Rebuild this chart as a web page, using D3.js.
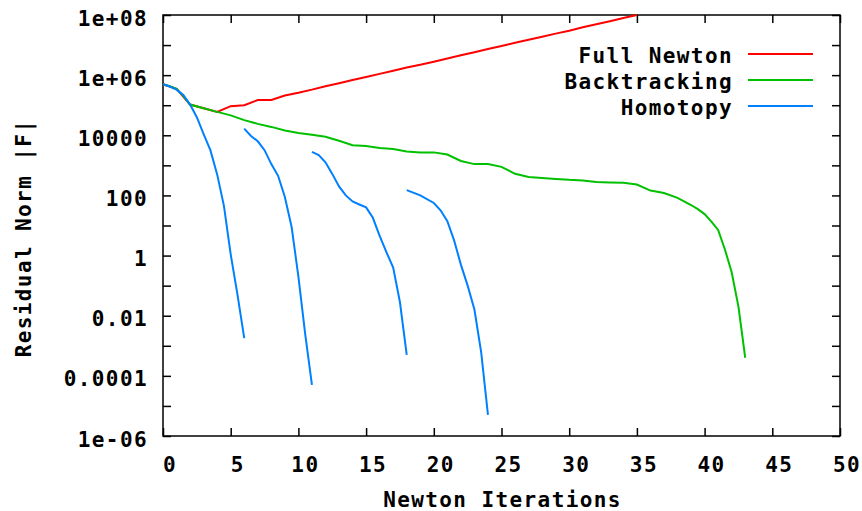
<!DOCTYPE html>
<html>
<head>
<meta charset="utf-8">
<script src="https://cdn.jsdelivr.net/npm/d3@7"></script>
<style>
    body { margin: 0; background: #fff; }
    text { font-family: "DejaVu Sans Mono", monospace; font-weight: bold; font-size: 21px; letter-spacing: 1.4px; fill: #000; }
</style>
</head>
<body>
<script>
// values: [newton iteration, residual norm |F|]
var fullNewton = [
    [0, 5.0e5], [1, 3.5e5], [2, 1.05e5], [3, 7.9e4], [4, 6.0e4], [5, 9.3e4],
    [6, 1.0e5], [7, 1.48e5], [8, 1.5e5], [9, 2.1e5], [10, 2.6e5], [11, 3.3e5],
    [12, 4.3e5], [13, 5.4e5], [14, 6.9e5], [15, 8.7e5], [16, 1.1e6], [17, 1.4e6],
    [18, 1.8e6], [19, 2.2e6], [20, 2.8e6], [21, 3.6e6], [22, 4.6e6], [23, 5.8e6],
    [24, 7.4e6], [25, 9.3e6], [26, 1.2e7], [27, 1.5e7], [28, 1.9e7], [29, 2.4e7],
    [30, 3.0e7], [31, 3.9e7], [32, 4.9e7], [33, 6.2e7], [34, 7.9e7], [35, 1.0e8]
];
var backtracking = [
    [0, 5.0e5], [0.5, 4.3e5], [1, 3.5e5], [1.5, 2.0e5], [2, 1.05e5], [3, 7.9e4],
    [4, 6.0e4], [5, 4.6e4], [6, 3.2e4], [7, 2.4e4], [8, 1.9e4], [9, 1.45e4],
    [10, 1.2e4], [11, 1.05e4], [12, 8.9e3], [13, 6.6e3], [14, 4.7e3], [15, 4.4e3],
    [16, 3.8e3], [17, 3.5e3], [18, 2.9e3], [19, 2.7e3], [20, 2.7e3], [21, 2.3e3],
    [22, 1.4e3], [23, 1.1e3], [24, 1.1e3], [25, 890], [26, 525], [27, 410],
    [28, 380], [29, 355], [30, 330], [31, 316], [32, 280], [33, 270], [34, 263],
    [35, 230], [36, 145], [37, 120], [38, 83], [39, 48], [39.5, 35], [40, 24],
    [40.5, 13.5], [41, 7.1], [41.5, 1.6], [42, 0.28], [42.5, 0.02], [43, 4e-4]
];
// homotopy restarts, one array per run
var homotopy = [
    [[0, 5.0e5], [0.5, 4.2e5], [1, 3.3e5], [1.5, 2.2e5], [2, 1.05e5], [2.5, 4.0e4],
     [3, 1.1e4], [3.5, 3.2e3], [4, 500], [4.5, 45], [5, 1.1], [5.5, 0.05], [6, 1.8e-3]],
    [[6, 1.66e4], [6.5, 9.5e3], [7, 6.3e3], [7.5, 3.2e3], [8, 1.1e3], [8.5, 450],
     [9, 89], [9.5, 8.9], [10, 0.2], [10.5, 2.5e-3], [11, 5e-5]],
    [[11, 2.8e3], [11.5, 2.2e3], [12, 1.26e3], [12.5, 520], [13, 200], [13.5, 100],
     [14, 63], [14.5, 50], [15, 40], [15.5, 18], [16, 4.5], [16.5, 1.3], [17, 0.4],
     [17.5, 0.028], [18, 5e-4]],
    [[18, 150], [19, 100], [20, 56], [20.5, 32], [21, 14], [21.5, 3.2], [22, 0.5],
     [22.5, 0.1], [23, 0.016], [23.5, 6e-4], [24, 5e-6]]
];
var seriesNames = ["Full Newton", "Backtracking", "Homotopy"];
var seriesColors = ["#ff0000", "#00c000", "#0080ff"];
var xTicks = [0, 5, 10, 15, 20, 25, 30, 35, 40, 45, 50];
var yTicks = [1e-6, 1e-5, 1e-4, 1e-3, 0.01, 0.1, 1, 10, 100, 1e3, 1e4, 1e5, 1e6, 1e7, 1e8];
var yLabels = { "1e-06": "1e-06", "0.0001": "0.0001", "0.01": "0.01", "1": "1", "100": "100",
    "10000": "10000", "1000000": "1e+06", "100000000": "1e+08" };

var pLeft = 163, pRight = 840, pTop = 15, pBottom = 436;

var svg = d3.select("body")
    .append("svg")
    .attr("width", 862)
    .attr("height", 511);

var x = d3.scaleLinear().domain([0, 50]).range([pLeft, pRight]);
var y = d3.scaleLog().domain([1e-6, 1e8]).range([pBottom, pTop]);

function labelOf(v) {
    var k = String(+v.toPrecision(3));
    if (v < 1.5e-6) k = "1e-06";
    return yLabels[k] || "";
}

// axes, ticks pointing inward, mirrored on top and right
var gx = svg.append("g")
    .attr("transform", "translate(0," + pBottom + ")")
    .call(d3.axisBottom(x).tickValues(xTicks).tickSizeInner(-8).tickSizeOuter(0).tickPadding(0));
gx.selectAll("text").attr("y", 36).attr("dy", null).attr("dx", 6.5);
svg.append("g")
    .attr("transform", "translate(0," + pTop + ")")
    .call(d3.axisTop(x).tickValues(xTicks).tickSizeInner(-8).tickSizeOuter(0).tickFormat(""));
var gy = svg.append("g")
    .attr("transform", "translate(" + pLeft + ",0)")
    .call(d3.axisLeft(y).tickValues(yTicks).tickSizeInner(-8).tickSizeOuter(0).tickFormat(labelOf));
gy.selectAll("text").attr("x", -15).attr("dy", 10);
svg.append("g")
    .attr("transform", "translate(" + pRight + ",0)")
    .call(d3.axisRight(y).tickValues(yTicks).tickSizeInner(-8).tickSizeOuter(0).tickFormat(""));
svg.selectAll(".domain").remove();
svg.selectAll(".tick line").attr("stroke", "#000").attr("stroke-width", 1.5);
svg.selectAll(".tick text").attr("font-family", null).attr("font-size", null).attr("fill", "#000");

svg.append("rect")
    .attr("x", pLeft)
    .attr("y", pTop)
    .attr("width", pRight - pLeft)
    .attr("height", pBottom - pTop)
    .attr("fill", "none")
    .attr("stroke", "#000")
    .attr("stroke-width", 1.5);

// series
var line = d3.line()
    .x(function (d) { return x(d[0]); })
    .y(function (d) { return y(d[1]); });
var plot = svg.append("g");
var groups = [[fullNewton], [backtracking], homotopy];
groups.forEach(function (runs, i) {
    runs.forEach(function (run) {
        plot.append("path")
            .datum(run)
            .attr("d", line)
            .attr("fill", "none")
            .attr("stroke", seriesColors[i])
            .attr("stroke-width", 2);
    });
});

// legend
var lg = svg.append("g");
seriesNames.forEach(function (name, i) {
    lg.append("text")
        .attr("x", 733)
        .attr("y", 63 + i * 26)
        .attr("text-anchor", "end")
        .text(name);
    lg.append("line")
        .attr("x1", 748)
        .attr("x2", 813)
        .attr("y1", 54 + i * 26)
        .attr("y2", 54 + i * 26)
        .attr("stroke", seriesColors[i])
        .attr("stroke-width", 2);
});

// axis titles
svg.append("text")
    .attr("x", (pLeft + pRight) / 2 + 1)
    .attr("y", 507)
    .attr("text-anchor", "middle")
    .text("Newton Iterations");
svg.append("text")
    .attr("transform", "translate(31,238) rotate(-90)")
    .attr("text-anchor", "middle")
    .text("Residual Norm |F|");
</script>
</body>
</html>
